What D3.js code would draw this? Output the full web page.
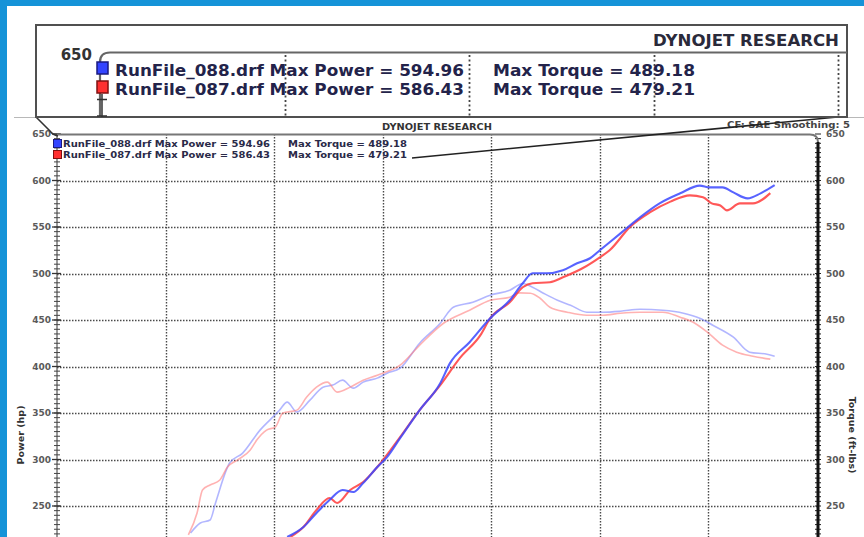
<!DOCTYPE html>
<html><head><meta charset="utf-8">
<script src="https://cdn.jsdelivr.net/npm/d3@7"></script>
<style>html,body{margin:0;padding:0;background:#fff;}svg{display:block;}</style>
</head><body>
<svg id="c" width="864" height="537"></svg>
<script>
// ---------- DATA ----------
const xTicks = [1000,2000,3000,4000,5000,6000,7000,8000];
const yTicks = [250,300,350,400,450,500,550,600,650];
const leftAxisTitle = "Power (hp)";
const rightAxisTitle = "Torque (ft-lbs)";
const runNames = ["RunFile_088.drf","RunFile_087.drf"];
const maxPower = ["594.96","586.43"];
const maxTorque = ["489.18","479.21"];

const run088PowerRpm = [3120,3270,3390,3510,3630,3730,3820,3950,4040,4160,4340,4530,4620,4800,4990,5170,5290,5380,5510,5660,5790,5910,6000,6190,6370,6550,6740,6920,7010,7130,7230,7360,7480,7610];
const run088Power    = [216.7,227.4,242.5,256.4,267.2,265.0,274.7,291.9,302.6,323.0,353.1,382.1,403.6,426.1,451.9,471.2,489.5,500.2,500.2,503.5,511.0,516.4,525.0,543.2,560.4,575.4,586.2,594.5,592.6,592.6,587.2,580.8,586.2,594.96];

const run087PowerRpm = [3150,3270,3390,3510,3580,3700,3820,3950,4160,4340,4530,4710,4900,4990,5170,5290,5380,5540,5660,5840,6000,6090,6280,6460,6650,6830,6950,7030,7110,7170,7290,7410,7570];
const run087Power    = [216.7,227.4,245.7,258.6,253.2,267.2,275.8,291.9,324.1,353.1,380.0,409.0,433.7,451.9,469.1,485.2,489.5,490.6,495.9,505.6,517.4,525.0,550.4,565.7,577.3,584.0,581.9,575.4,573.1,567.9,575.4,575.4,586.43];

const run088TorqueRpm = [2230,2320,2410,2460,2590,2710,2870,2960,3050,3120,3210,3330,3450,3540,3630,3730,3820,3950,4040,4160,4340,4530,4650,4830,4990,5170,5290,5380,5480,5610,5730,5880,6030,6190,6370,6580,6770,6920,7040,7230,7380,7540,7610];
const run088Torque    = [221.0,231.7,235.0,253.2,296.2,306.9,331.6,342.4,353.1,361.7,351.0,363.8,377.8,380.0,385.3,376.7,383.2,387.5,392.8,398.2,425.1,446.5,463.7,469.1,476.6,482.0,489.18,485.2,478.8,471.2,465.9,458.4,458.4,459.4,461.6,460.5,457.3,451.9,444.4,431.5,415.4,413.2,411.1];

const run087TorqueRpm = [2210,2290,2340,2410,2500,2570,2660,2780,2840,2930,3010,3080,3210,3300,3390,3490,3580,3700,3820,3950,4160,4340,4560,4800,4990,5170,5260,5360,5450,5540,5700,5880,6030,6190,6370,6580,6740,6860,6990,7130,7260,7410,7570];
const run087Torque    = [218.9,242.5,267.2,272.6,277.9,291.9,299.4,310.1,320.9,331.6,334.8,349.9,353.1,367.1,377.8,383.2,372.4,377.8,385.3,390.7,401.4,422.9,446.5,460.5,471.2,474.5,479.21,478.8,473.4,463.7,458.4,455.1,455.1,457.3,458.4,458.4,453.0,447.6,436.9,422.9,415.4,411.1,407.9];

// ---------- LAYOUT ----------
const svg = d3.select("#c");
const FONT = "'DejaVu Sans', Verdana, sans-serif";
const L = 57, R = 818, T = 134, B = 537;
const x = d3.scaleLinear().domain([1000,8000]).range([57,817]);
const y = d3.scaleLinear().domain([250,650]).range([506,134]);

svg.append("rect").attr("width",864).attr("height",537).attr("fill","#fff");

// light gray separator line
svg.append("line").attr("x1",14).attr("x2",864).attr("y1",117.5).attr("y2",117.5)
  .attr("stroke","#b8b8b8").attr("stroke-width",1);

// ---------- MAIN PLOT ----------
const g = svg.append("g");
const defs = svg.append("defs");
defs.append("clipPath").attr("id","plotclip").append("rect")
  .attr("x",L).attr("y",T).attr("width",R-L).attr("height",B-T);

// horizontal grid
g.append("g").selectAll("line").data(yTicks.filter(v=>v<650)).join("line")
  .attr("x1",L).attr("x2",R).attr("y1",d=>Math.round(y(d))+0.5).attr("y2",d=>Math.round(y(d))+0.5)
  .attr("stroke","#4a4a4a").attr("stroke-width",1.4).attr("stroke-dasharray","1.5,1.5");
// vertical grid
g.append("g").selectAll("line").data(xTicks.slice(1,-1)).join("line")
  .attr("x1",d=>Math.round(x(d))+0.5).attr("x2",d=>Math.round(x(d))+0.5).attr("y1",T).attr("y2",B)
  .attr("stroke","#4a4a4a").attr("stroke-width",1.4).attr("stroke-dasharray","1.5,1.5");

// left axis with minor ticks
const minorTicks = d3.range(220,651,5);
g.append("line").attr("x1",L).attr("x2",L).attr("y1",T).attr("y2",B).attr("stroke","#555").attr("stroke-width",1.2);
g.append("g").selectAll("line").data(minorTicks).join("line")
  .attr("x1",L-3).attr("x2",L+3).attr("y1",d=>y(d)).attr("y2",d=>y(d))
  .attr("stroke","#444").attr("stroke-width",1);
g.append("g").selectAll("line").data(yTicks).join("line")
  .attr("x1",L-5).attr("x2",L+4).attr("y1",d=>y(d)).attr("y2",d=>y(d))
  .attr("stroke","#333").attr("stroke-width",1.3);

// right axis
g.append("g").selectAll("line").data(minorTicks).join("line")
  .attr("x1",R-3).attr("x2",R+3).attr("y1",d=>y(d)).attr("y2",d=>y(d))
  .attr("stroke","#222").attr("stroke-width",1);
g.append("path").attr("d",`M${L},${T+0.5} L${R-8},${T+0.5} Q${R},${T+0.5} ${R},${T+8} L${R},${B}`)
  .attr("fill","none").attr("stroke","#777").attr("stroke-width",2);
g.append("line").attr("x1",R).attr("x2",R).attr("y1",T+8).attr("y2",B).attr("stroke","#111").attr("stroke-width",3);

// axis labels
g.append("g").selectAll("text").data(yTicks).join("text")
  .attr("x",51).attr("y",d=>y(d)).attr("dy","0.35em").attr("text-anchor","end")
  .attr("font-family",FONT).attr("font-size",9).attr("font-weight","bold").attr("fill","#5a5a5a")
  .text(d=>d);
g.append("g").selectAll("text").data(yTicks).join("text")
  .attr("x",826).attr("y",d=>y(d)).attr("dy","0.35em").attr("text-anchor","start")
  .attr("font-family",FONT).attr("font-size",9).attr("font-weight","bold").attr("fill","#5a5a5a")
  .text(d=>d);
g.append("text").attr("transform","translate(24,435) rotate(-90)").attr("text-anchor","middle")
  .attr("font-family",FONT).attr("font-size",9.5).attr("font-weight","bold").attr("fill","#333")
  .text(leftAxisTitle);
g.append("text").attr("transform","translate(849,435) rotate(90)").attr("text-anchor","middle")
  .attr("font-family",FONT).attr("font-size",9.5).attr("font-weight","bold").attr("fill","#333")
  .text(rightAxisTitle);

// curves
const line = d3.line().x(d=>x(d[0])).y(d=>y(d[1])).curve(d3.curveMonotoneX);
const zip = (a,b)=>a.map((v,i)=>[v,b[i]]);
const curves = g.append("g").attr("clip-path","url(#plotclip)");
const series = [
  {d:zip(run088TorqueRpm,run088Torque), c:"#7f86ff", w:1.6, o:0.6},
  {d:zip(run087TorqueRpm,run087Torque), c:"#ff7f7f", w:1.6, o:0.6},
  {d:zip(run087PowerRpm,run087Power), c:"#ff3b3b", w:2.1, o:0.85},
  {d:zip(run088PowerRpm,run088Power), c:"#3b48ff", w:2.1, o:0.85}
];
curves.selectAll("path").data(series).join("path")
  .attr("d",s=>line(s.d)).attr("fill","none").attr("stroke",s=>s.c)
  .attr("stroke-width",s=>s.w).attr("stroke-opacity",s=>s.o).attr("stroke-linejoin","round");

// main legend
const legColors = [["#3344ff","#1a1a80"],["#ff3030","#801010"]];
const legY = [147,158];
runNames.forEach((n,i)=>{
  g.append("rect").attr("x",53.5).attr("y",legY[i]-7.5).attr("width",8).attr("height",8)
    .attr("fill",legColors[i][0]).attr("stroke",legColors[i][1]).attr("stroke-width",1);
  g.append("text").attr("x",63).attr("y",legY[i]).attr("font-family",FONT).attr("font-size",8.5)
    .attr("font-weight","bold").attr("fill","#2a2a48").attr("textLength",207).attr("lengthAdjust","spacingAndGlyphs")
    .text(`${n} Max Power = ${maxPower[i]}`);
  g.append("text").attr("x",288).attr("y",legY[i]).attr("font-family",FONT).attr("font-size",8.5)
    .attr("font-weight","bold").attr("fill","#2a2a48").attr("textLength",119).attr("lengthAdjust","spacingAndGlyphs")
    .text(`Max Torque = ${maxTorque[i]}`);
});

// header texts
g.append("text").attr("x",437).attr("y",129.5).attr("text-anchor","middle").attr("font-family",FONT)
  .attr("font-size",8).attr("font-weight","bold").attr("fill","#333").attr("textLength",110).attr("lengthAdjust","spacingAndGlyphs")
  .text("DYNOJET RESEARCH");
g.append("text").attr("x",727).attr("y",127.5).attr("font-family",FONT)
  .attr("font-size",8.5).attr("font-weight","bold").attr("fill","#444").attr("textLength",123).attr("lengthAdjust","spacingAndGlyphs")
  .text("CF: SAE Smoothing: 5");

// ---------- CALLOUT ----------
const cx = d3.scaleLinear().domain([1000,8000]).range([100, 100 + 760*1.7]);
const cg = svg.append("g");
// connector lines
cg.append("path").attr("d","M36,117 L50,131 Q53,135 58,136").attr("fill","none").attr("stroke","#333").attr("stroke-width",1.5);
cg.append("line").attr("x1",848).attr("y1",116).attr("x2",412).attr("y2",158).attr("stroke","#222").attr("stroke-width",1.6);

cg.append("rect").attr("x",36).attr("y",25).attr("width",811).attr("height",92)
  .attr("fill","#fff").attr("stroke","#505050").attr("stroke-width",2);
cg.append("text").attr("x",839).attr("y",46).attr("text-anchor","end").attr("font-family",FONT)
  .attr("font-size",16).attr("font-weight","bold").attr("fill","#2a2a3a").attr("textLength",186).attr("lengthAdjust","spacingAndGlyphs")
  .text("DYNOJET RESEARCH");
// magnified frame
cg.append("path").attr("d","M100,117 L100,62 Q100,52.5 110,52.5 L847,52.5").attr("fill","none")
  .attr("stroke","#666").attr("stroke-width",2.2);
cg.append("g").selectAll("line").data(xTicks.slice(1).filter(v=>cx(v)<847)).join("line")
  .attr("x1",d=>Math.round(cx(d))+0.5).attr("x2",d=>Math.round(cx(d))+0.5).attr("y1",55).attr("y2",117)
  .attr("stroke","#444").attr("stroke-width",1.8).attr("stroke-dasharray","2,2.5");
// magnified left axis ticks
cg.append("line").attr("x1",102).attr("x2",102).attr("y1",94).attr("y2",117).attr("stroke","#333").attr("stroke-width",1.5);
cg.append("line").attr("x1",97).attr("x2",107).attr("y1",99.5).attr("y2",99.5).attr("stroke","#333").attr("stroke-width",1.5);
cg.append("line").attr("x1",97).attr("x2",107).attr("y1",116).attr("y2",116).attr("stroke","#333").attr("stroke-width",1.5);
cg.append("text").attr("x",92).attr("y",60).attr("text-anchor","end").attr("font-family",FONT)
  .attr("font-size",15).attr("font-weight","bold").attr("fill","#333").text(yTicks[yTicks.length-1]);
const cLegY = [76,95];
runNames.forEach((n,i)=>{
  cg.append("rect").attr("x",97).attr("y",cLegY[i]-14).attr("width",11).attr("height",12)
    .attr("fill",legColors[i][0]).attr("stroke",legColors[i][1]).attr("stroke-width",1.5);
  cg.append("text").attr("x",115).attr("y",cLegY[i]).attr("font-family",FONT).attr("font-size",16)
    .attr("font-weight","bold").attr("fill","#23234a").attr("textLength",349).attr("lengthAdjust","spacingAndGlyphs")
    .text(`${n} Max Power = ${maxPower[i]}`);
  cg.append("text").attr("x",493).attr("y",cLegY[i]).attr("font-family",FONT).attr("font-size",16)
    .attr("font-weight","bold").attr("fill","#23234a").attr("textLength",202).attr("lengthAdjust","spacingAndGlyphs")
    .text(`Max Torque = ${maxTorque[i]}`);
});

// ---------- BLUE FRAME ----------
svg.append("rect").attr("x",0).attr("y",0).attr("width",864).attr("height",6).attr("fill","#1593d8");
svg.append("rect").attr("x",0).attr("y",0).attr("width",7).attr("height",537).attr("fill","#1593d8");
</script>
</body></html>
